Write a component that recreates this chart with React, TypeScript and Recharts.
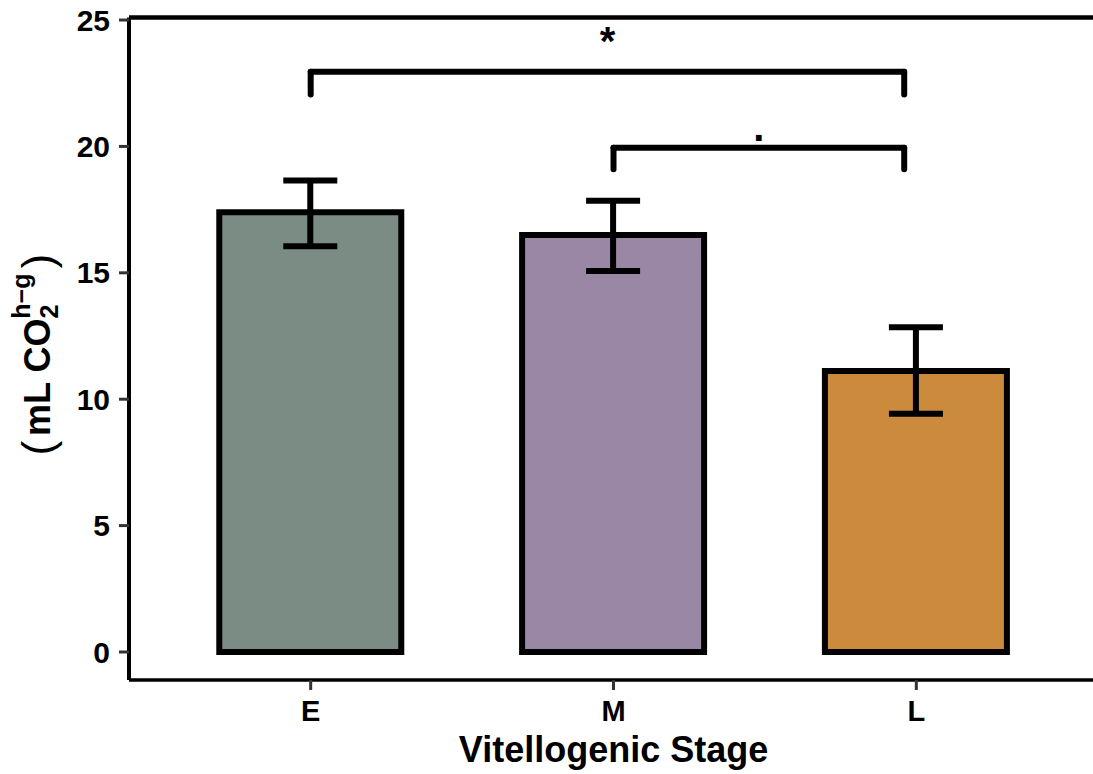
import React from 'react';
import { BarChart, Bar, XAxis, YAxis, Cell, ErrorBar, ReferenceLine, Label } from 'recharts';

// vitellogenic stages along the x axis
const stages = ['E', 'M', 'L'];
// mean CO2 production per stage and the ends of its error bar
const means = [17.4, 16.5, 11.12];
const lower = [16.05, 15.07, 9.42];
const upper = [18.65, 17.85, 12.85];

const yTicks = [0, 5, 10, 15, 20, 25];
const yDomain = [-1.108, 25.1];
// stage positions run 1..3, with 0.6 of a step of room on either side
const xDomain = [0.4, 3.6];

// significance brackets; x is the stage position (E = 1, M = 2, L = 3)
const bracketFrom = [1, 2];
const bracketTo = [2.96, 2.96];
const bracketTop = [22.95, 19.95];
const bracketTip = [22.05, 19.1];
const bracketMarks = ['*', '.'];

const fills = ['#7a8c84', '#9a87a6', '#cc8a3d'];
const FONT = '"Liberation Sans", Arial, Helvetica, sans-serif';
// the asterisk sits high in its glyph box, the dot on the baseline
const markLift: Record<string, number> = { '*': 17, '.': 7 };

const data = stages.map((stage, i) => ({
  pos: i + 1,
  stage,
  mean: means[i],
  err: [means[i] - lower[i], upper[i] - means[i]],
}));

function YTitle({ viewBox }: any) {
  const cx = viewBox.x + 50;
  const cy = viewBox.y + viewBox.height / 2 + 6;
  return (
    <text
      transform={`translate(${cx},${cy}) rotate(-90)`}
      textAnchor="middle"
      fontFamily={FONT}
      fontWeight="bold"
      fontSize={36}
      fill="#000"
    >
      <tspan fontWeight="normal" fontSize={44} dy={3}>(</tspan>
      <tspan dx={5} dy={-3}>mL CO</tspan>
      <tspan fontSize={25} dy={8}>2</tspan>
      <tspan fontSize={25} dx={-14} dy={-28}>h−g</tspan>
      <tspan fontWeight="normal" fontSize={44} dx={5} dy={23}>)</tspan>
    </text>
  );
}

function XTitle({ viewBox }: any) {
  return (
    <text
      x={viewBox.x + viewBox.width / 2}
      y={viewBox.y + 82}
      textAnchor="middle"
      fontFamily={FONT}
      fontWeight="bold"
      fontSize={36}
      fill="#000"
    >
      Vitellogenic Stage
    </text>
  );
}

export default function App() {
  const tickStyle = { fontSize: 30, fontWeight: 'bold', fill: '#000', fontFamily: FONT };

  return (
    <div style={{ position: 'fixed', left: 0, top: 0, width: 1093, height: 774, overflow: 'hidden', background: '#fff' }}>
      <BarChart width={1100} height={774} data={data} margin={{ top: 17.5, right: 2, bottom: 0, left: 0 }}>
        <XAxis
          dataKey="pos"
          type="number"
          domain={xDomain}
          ticks={data.map((d) => d.pos)}
          tickFormatter={(v: number) => stages[v - 1]}
          allowDataOverflow
          height={94}
          tickSize={10}
          tickMargin={10}
          axisLine={{ stroke: '#000', strokeWidth: 3.5 }}
          tickLine={{ stroke: '#333', strokeWidth: 3 }}
          tick={{ ...tickStyle, fontSize: 29 }}
        >
          <Label content={XTitle} />
        </XAxis>
        <YAxis
          type="number"
          width={129}
          domain={yDomain}
          ticks={yTicks}
          interval={0}
          allowDataOverflow
          tickSize={10}
          tickMargin={9}
          axisLine={{ stroke: '#000', strokeWidth: 4 }}
          tickLine={{ stroke: '#333', strokeWidth: 3 }}
          tick={tickStyle}
        >
          <Label content={YTitle} />
        </YAxis>

        {/* closing line along the top of the panel */}
        <ReferenceLine y={yDomain[1]} stroke="#000" strokeWidth={4.5} />

        <Bar dataKey="mean" barSize={182} stroke="#000" strokeWidth={6} isAnimationActive={false}>
          {data.map((d, i) => (
            <Cell key={d.stage} fill={fills[i]} />
          ))}
          <ErrorBar dataKey="err" direction="y" width={27} stroke="#000" strokeWidth={6} />
        </Bar>

        {bracketFrom.map((from, i) => {
          const to = bracketTo[i];
          const top = bracketTop[i];
          const tip = bracketTip[i];
          const mark = bracketMarks[i];
          const line = { stroke: '#000', strokeWidth: 6, strokeLinecap: 'round' as const };
          return (
            <React.Fragment key={i}>
              <ReferenceLine
                {...line}
                segment={[{ x: from, y: top }, { x: to, y: top }]}
                label={{
                  value: mark,
                  position: 'top',
                  offset: markLift[mark],
                  fontSize: 40,
                  fontWeight: 'bold',
                  fill: '#000',
                  fontFamily: FONT,
                }}
              />
              <ReferenceLine {...line} segment={[{ x: from, y: top }, { x: from, y: tip }]} />
              <ReferenceLine {...line} segment={[{ x: to, y: top }, { x: to, y: tip }]} />
            </React.Fragment>
          );
        })}
      </BarChart>
    </div>
  );
}
